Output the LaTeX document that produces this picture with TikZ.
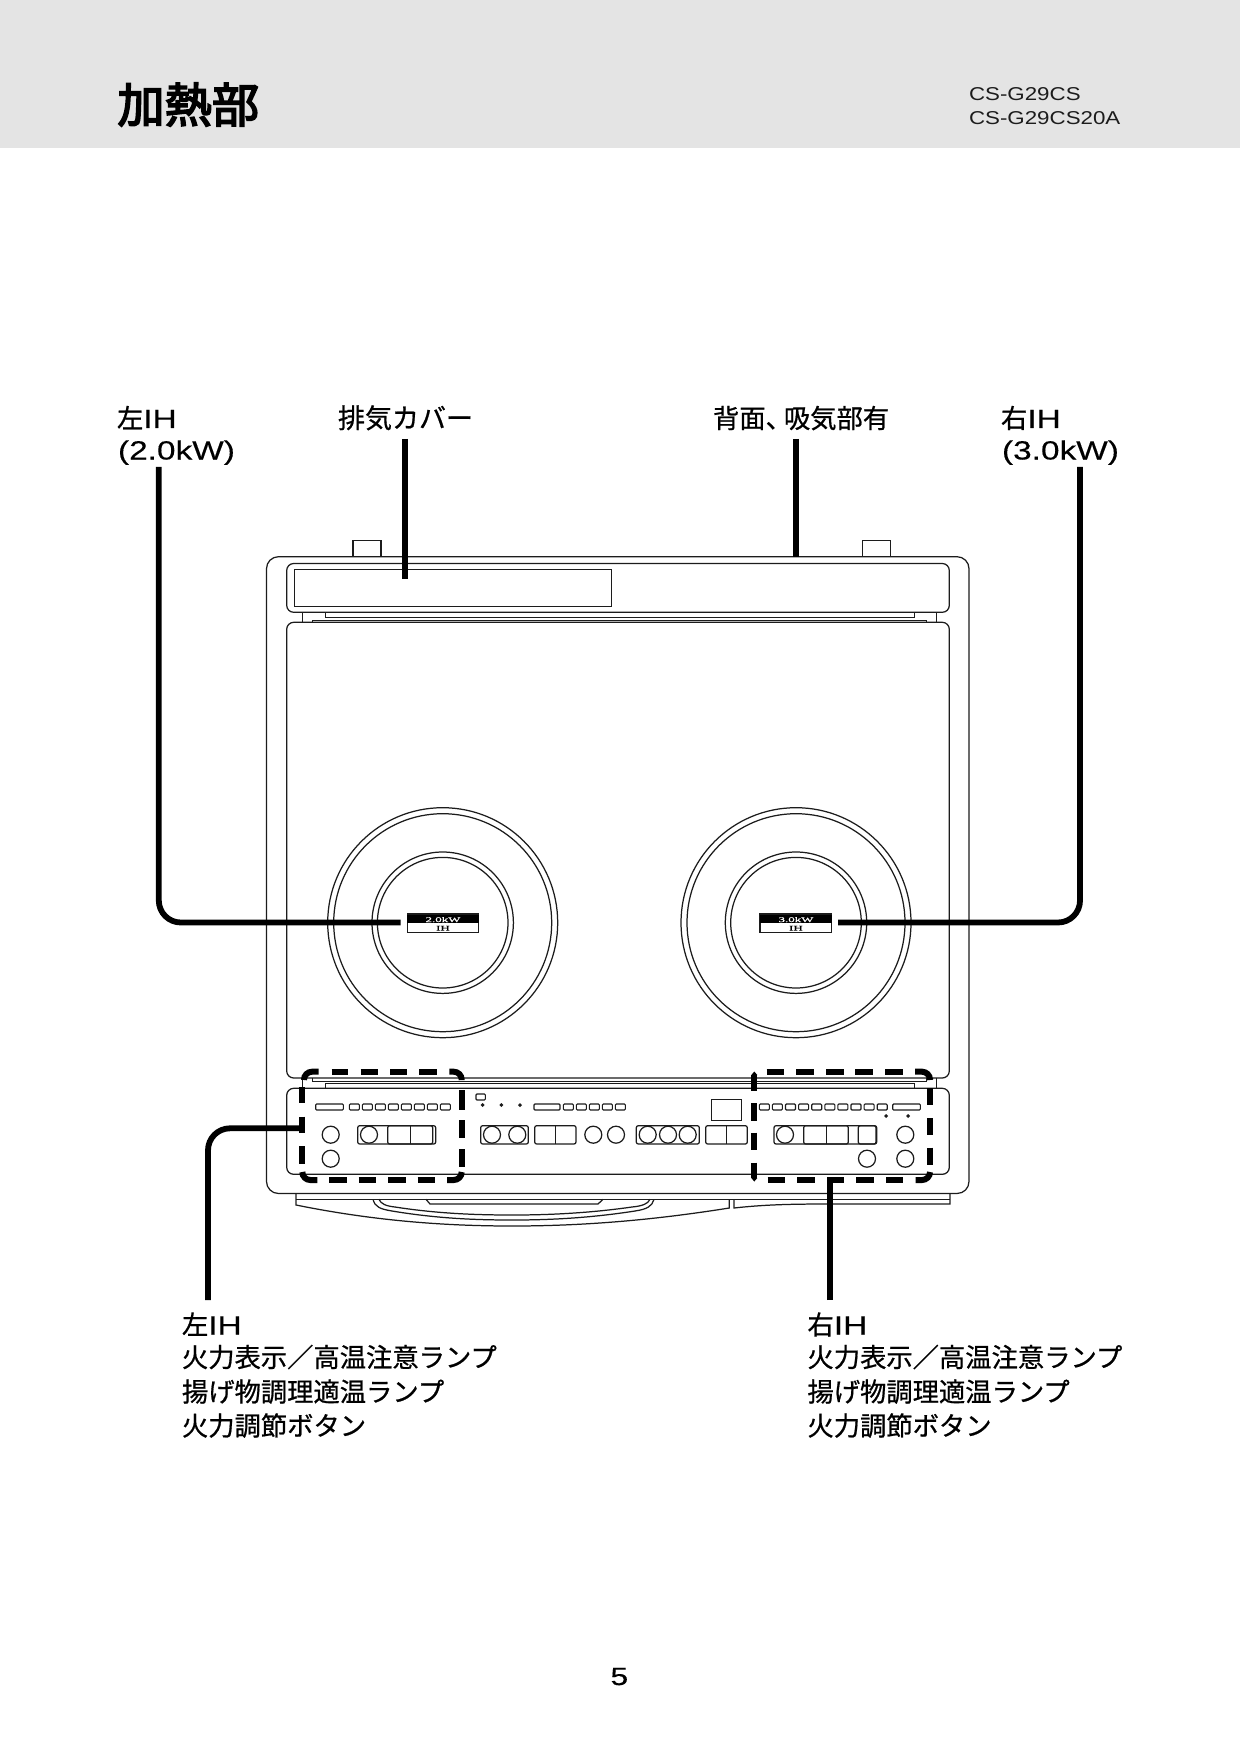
\documentclass[tikz,border=0pt]{standalone}
\usepackage{fontspec}
\newfontfamily\cjkf[FakeBold=0.7]{Noto Sans CJK JP}
\newfontfamily\titlef[FakeBold=3.6]{Noto Sans CJK JP}
\newfontfamily\latf[FakeStretch=1.27,FakeBold=0.3]{Liberation Sans}
\newfontfamily\modf[FakeStretch=1.2]{Liberation Sans}
\newfontfamily\serf[FakeStretch=1.8,FakeBold=0.6]{Liberation Serif}
\newcommand{\lb}[1]{{\cjkf #1}}
\newcommand{\lt}[1]{{\latf #1}}
\definecolor{band}{HTML}{E4E4E4}
\definecolor{ink}{HTML}{1C1C1C}
\tikzset{
  ln/.style={draw=ink,line width=.62pt},
  hair/.style={draw=ink,line width=.45pt},
  boxln/.style={ln,rounded corners=1pt},
  smallbox/.style={ln,line width=.55pt,rounded corners=.5pt},
  lead/.style={draw=black,line width=2.9pt},
  roundlead/.style={lead,rounded corners=11pt},
  dashseg/.style={draw=black,line width=3pt},
  dashcorner/.style={draw=black,line width=3pt,rounded corners=4pt},
  lab/.style={anchor=base west,inner sep=0pt,outer sep=0pt,font=\fontsize{13.15}{13.15}\selectfont,text=black},
  ratingbox/.style={inner sep=0pt,font=\serf\fontsize{3.6}{3.6}\selectfont},
}
\begin{document}
\begin{tikzpicture}[x=0.5pt,y=-0.5pt]
\useasboundingbox (0,0) rectangle (1240,1754);
\fill[white] (0,0) rectangle (1240,1754);
\fill[band] (0,0) rectangle (1240,148);
% header
\node[lab,font=\titlef\fontsize{23.6}{23.6}\selectfont] (title) at (117.5,122.5) {加熱部};
\node[lab,font=\modf\fontsize{9.3}{9.3}\selectfont,text=ink] (modelA) at (969,100.7) {CS-G29CS};
\node[lab,font=\modf\fontsize{9.3}{9.3}\selectfont,text=ink] (modelB) at (969,125) {CS-G29CS20A};
% top labels
\node[lab] (lA) at (117,428) {\lb{左}\lt{IH}};
\node[lab] (lB) at (118,459.5) {\lt{(2.0kW)}};
\node[lab,font=\fontsize{13.5}{13.5}\selectfont] (exh) at (338,428) {\lb{排気カバー}};
\node[lab] (back) at (713,428) {\lb{背面、\kern-4pt 吸気部有}};
\node[lab] (rA) at (1001,428) {\lb{右}\lt{IH}};
\node[lab] (rB) at (1002,459.5) {\lt{(3.0kW)}};
% lower labels
\node[lab] (la1) at (182,1334.5) {\lb{左}\lt{IH}};
\node[lab] (la2) at (182,1367) {\lb{火力表示／高温注意ランプ}};
\node[lab] (la3) at (182,1401.5) {\lb{揚げ物調理適温ランプ}};
\node[lab] (la4) at (182,1435.5) {\lb{火力調節ボタン}};
\node[lab] (ra1) at (807.5,1334.5) {\lb{右}\lt{IH}};
\node[lab] (ra2) at (807.5,1367) {\lb{火力表示／高温注意ランプ}};
\node[lab] (ra3) at (807.5,1401.5) {\lb{揚げ物調理適温ランプ}};
\node[lab] (ra4) at (807.5,1435.5) {\lb{火力調節ボタン}};
\node[lab,font=\latf\fontsize{12.5}{12.5}\selectfont] (page) at (610.5,1685) {5};
% body
\draw[ln,rounded corners=6pt] (266.5,556.7) rectangle (969,1193.5);
\draw[ln] (353,556.7) -- (353,540.7) -- (381,540.7) -- (381,556.7);
\draw[ln] (862.3,556.7) -- (862.3,540.7) -- (890.3,540.7) -- (890.3,556.7);
% exhaust cover
\draw[ln,rounded corners=3.5pt] (286.7,563.5) rectangle (949.3,612.3);
\draw[ln] (294.7,569.3) rectangle (611.3,606.7);
% hinge lines, top
\draw[ln] (302.3,612.3) -- (302.3,622.3);
\draw[ln] (936.7,612.3) -- (936.7,622.3);
\draw[hair] (325.7,612.3) -- (325.7,617.6) -- (914,617.6) -- (914,612.3);
\draw[hair] (312.7,622.3) -- (312.7,620) -- (926,620) -- (926,622.3);
% glass
\draw[ln,rounded corners=3.5pt] (286.7,622.3) rectangle (949.3,1078);
% hinge lines, bottom
\draw[ln] (302.3,1078) -- (302.3,1088.3);
\draw[ln] (936.7,1078) -- (936.7,1088.3);
\draw[hair] (312.7,1078) -- (312.7,1081.2) -- (926,1081.2) -- (926,1078);
\draw[hair] (325.7,1088.3) -- (325.7,1083.8) -- (914,1083.8) -- (914,1088.3);
% control panel
\draw[ln,rounded corners=3.5pt] (286.7,1088.3) rectangle (949.3,1174.3);
% tray
\draw[ln] (296,1193.5) -- (296,1205) .. controls (370,1220) and (440,1226) .. (512,1226) .. controls (590,1226) and (660,1219) .. (729.3,1208) -- (729.3,1199.3);
\draw[ln] (296,1199.3) -- (950,1199.3);
\draw[ln] (734,1199.3) -- (734,1208) .. controls (770,1204) and (800,1204) .. (840,1204) -- (950,1204) -- (950,1193.5);
\draw[ln] (373,1199.3) .. controls (375,1207) and (380,1209) .. (392,1211) .. controls (440,1219) and (480,1220) .. (513,1220) .. controls (550,1220) and (590,1218) .. (635,1211) .. controls (648,1209) and (652,1206) .. (654,1199.3);
\draw[ln] (379,1199.3) .. controls (381,1204) and (386,1206) .. (395,1207) .. controls (440,1214) and (480,1215) .. (513,1215) .. controls (550,1215) and (590,1213) .. (632,1207) .. controls (642,1206) and (648,1204) .. (650,1199.3);
\draw[ln] (426,1199.3) -- (430,1204) -- (598,1204) -- (603,1199.3);
% burners
\foreach \cx in {442.7,796} {
  \foreach \r in {115,109,70.7,65.3}
    \draw[ln] (\cx,922.7) circle[radius=\r];
}
% rating plates
\draw[ln,fill=white] (407.3,914) rectangle (478.7,932.7);
\fill[black] (407.3,915.3) rectangle (478.7,923.3);
\node[ratingbox,text=white] (plA) at (443,919.6) {2.0kW};
\node[ratingbox,text=black] (plAb) at (443,928.2) {IH};
\draw[ln,fill=white] (760,914) rectangle (831.7,932.7);
\fill[black] (760,915.3) rectangle (831.7,923.3);
\node[ratingbox,text=white] (plB) at (796,919.6) {3.0kW};
\node[ratingbox,text=black] (plBb) at (796,928.2) {IH};
% controls: left block
\draw[smallbox] (315.7,1104) rectangle (343.3,1110);
\foreach \i in {0,...,7} \draw[smallbox] ({349.3+13*\i},1104) rectangle ({359.3+13*\i},1110);
\foreach \y in {1134.7,1158.7} \draw[ln] (330.7,\y) circle[radius=8.5];
\draw[boxln] (357.7,1125.7) rectangle (435.7,1144);
\draw[ln] (369,1134.7) circle[radius=8.5];
\draw[boxln] (387.7,1125.7) rectangle (432.7,1144);
\draw[ln] (410.3,1125.7) -- (410.3,1144);
% controls: middle block
\draw[smallbox] (476,1094) rectangle (485.3,1100);
\foreach \x in {482.7,501.3,520} \fill[ink] (\x,1103) -- (\x+2,1105) -- (\x,1107) -- (\x-2,1105) -- cycle;
\draw[smallbox] (534,1104) rectangle (560,1110);
\foreach \i in {0,...,4} \draw[smallbox] ({563.3+13*\i},1104) rectangle ({573.3+13*\i},1110);
\draw[boxln] (480.7,1125.7) rectangle (528.3,1144);
\foreach \x in {492,517.3} \draw[ln] (\x,1134.7) circle[radius=8.5];
\draw[boxln] (534.7,1125.7) rectangle (576,1144);
\draw[ln] (555.3,1125.7) -- (555.3,1144);
\foreach \x in {593.3,616} \draw[ln] (\x,1134.7) circle[radius=8.5];
\draw[boxln] (636.3,1125.7) rectangle (699.3,1144);
\foreach \x in {647.7,668,687.7} \draw[ln] (\x,1134.7) circle[radius=8.5];
\draw[boxln] (705.7,1125.7) rectangle (747.3,1144);
\draw[ln] (726.7,1125.7) -- (726.7,1144);
\draw[ln] (711.7,1099.3) rectangle (741.7,1120.7);
% controls: right block
\foreach \i in {0,...,9} \draw[smallbox] ({759.3+13.1*\i},1104) rectangle ({769.3+13.1*\i},1110);
\draw[smallbox] (892.7,1104) rectangle (920.3,1110);
\foreach \x in {886,908} \fill[ink] (\x,1114) -- (\x+2,1116) -- (\x,1118) -- (\x-2,1116) -- cycle;
\draw[boxln] (774,1125.7) rectangle (876.7,1144);
\draw[ln] (785,1134.7) circle[radius=8.5];
\draw[boxln] (803.7,1125.7) rectangle (848.3,1144);
\draw[ln] (826.7,1125.7) -- (826.7,1144);
\draw[boxln] (858.3,1125.7) rectangle (876,1144);
\foreach \p in {(905.3,1134.7),(905.3,1158.7),(867,1158.7)} \draw[ln] \p circle[radius=8.5];
% dashed outline, left
\foreach \a/\b in {331.7/348.3,360.7/378,390/407.3,419.3/436.7} \draw[dashseg] (\a,1071.7) -- (\b,1071.7);
\foreach \a/\b in {329.3/346.7,358.7/376,388.3/406,417.7/435.3} \draw[dashseg] (\a,1180) -- (\b,1180);
\foreach \a/\b in {1090/1110,1120/1137.7,1149.3/1167.3} \draw[dashseg] (461.7,\a) -- (461.7,\b);
\foreach \a/\b in {1087.3/1103.3,1116.7/1133.3,1146/1164} \draw[dashseg] (302.3,\a) -- (302.3,\b);
\draw[dashcorner] (304,1078) -- (304,1071.7) -- (318.5,1071.7);
\draw[dashcorner] (449.3,1071.7) -- (461.7,1071.7) -- (461.7,1080);
\draw[dashcorner] (461.7,1172) -- (461.7,1180) -- (447,1180);
\draw[dashcorner] (317.3,1180) -- (302.3,1180) -- (302.3,1172);
% dashed outline, right
\foreach \a/\b in {766.7/784.3,796.3/814,826/843.7,855.3/873,885/902.7} \draw[dashseg] (\a,1071.7) -- (\b,1071.7);
\foreach \a/\b in {767.7/785,797.3/815,827/844.3,856.3/874,886/903.3} \draw[dashseg] (\a,1180) -- (\b,1180);
\foreach \a/\b in {1088/1105,1118/1135,1147.7/1165} \draw[dashseg] (930,\a) -- (930,\b);
\foreach \a/\b in {1075/1090.7,1103.3/1120.7,1132.7/1150,1162.7/1178} \draw[dashseg] (754.3,\a) -- (754.3,\b);
\fill[black] (751.3,1075) -- (754.3,1071.5) -- (757.3,1075) -- cycle;
\fill[black] (751.3,1178) -- (754.3,1181.5) -- (757.3,1178) -- cycle;
\draw[dashcorner] (915,1071.7) -- (930,1071.7) -- (930,1078);
\draw[dashcorner] (930,1172) -- (930,1180) -- (915.7,1180);
% leaders
\coordinate (endA) at (158.8,467);
\coordinate (endB) at (400.7,922.5);
\coordinate (endC) at (405,439);
\coordinate (endD) at (405,578.7);
\coordinate (endE) at (796,439);
\coordinate (endF) at (796,556.7);
\coordinate (endG) at (1080,467);
\coordinate (endH) at (838,922.5);
\coordinate (endI) at (208,1300);
\coordinate (endJ) at (302.3,1128.3);
\coordinate (endK) at (830.3,1300);
\coordinate (endL) at (830.3,1180);
\draw[roundlead] (endA) |- (endB);
\draw[lead] (endC) -- (endD);
\draw[lead] (endE) -- (endF);
\draw[roundlead] (endG) |- (endH);
\draw[roundlead] (endI) |- (endJ);
\draw[lead] (endK) -- (endL);
\end{tikzpicture}
\end{document}
